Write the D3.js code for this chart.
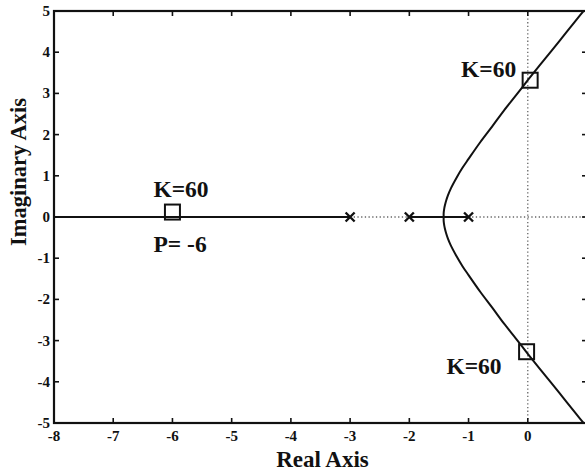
<!DOCTYPE html>
<html>
<head>
<meta charset="utf-8">
<script src="https://cdn.jsdelivr.net/npm/d3@7"></script>
<style>
  html, body { margin: 0; padding: 0; background: #fff; }
  svg { display: block; }
  text { font-family: "Liberation Serif", "Times New Roman", serif; font-weight: bold; fill: #111; }
</style>
</head>
<body>
<div id="chart"></div>
<script>
// Root locus of G(s) = K / ((s+1)(s+2)(s+3))
const realTicks = [-8, -7, -6, -5, -4, -3, -2, -1, 0, 1];
const realTickLabels = ["-8", "-7", "-6", "-5", "-4", "-3", "-2", "-1", "0", ""];
const imagTicks = [-5, -4, -3, -2, -1, 0, 1, 2, 3, 4, 5];
const imagTickLabels = ["-5", "-4", "-3", "-2", "-1", "0", "1", "2", "3", "4", "5"];

// open-loop poles
const poles = [-3, -2, -1];

// branches lying on the real axis: [from, to]
const realSegments = [[-8, -3], [-2, -1]];

// complex branch leaving the breakaway point upward: [re, im]
const upperBranch = [
  [-1.42, 0.00], [-1.42, 0.10], [-1.41, 0.21], [-1.40, 0.28], [-1.38, 0.39],
  [-1.35, 0.52], [-1.30, 0.69], [-1.20, 0.96], [-1.10, 1.20], [-1.00, 1.41],
  [-0.80, 1.82], [-0.60, 2.20], [-0.40, 2.59], [-0.20, 2.95], [0.00, 3.32],
  [0.20, 3.68], [0.40, 4.03], [0.60, 4.39], [0.80, 4.75], [1.00, 5.10]
];
// its mirror image below the real axis
const lowerBranch = [
  [-1.42, 0.00], [-1.42, -0.10], [-1.41, -0.21], [-1.40, -0.28], [-1.38, -0.39],
  [-1.35, -0.52], [-1.30, -0.69], [-1.20, -0.96], [-1.10, -1.20], [-1.00, -1.41],
  [-0.80, -1.82], [-0.60, -2.20], [-0.40, -2.59], [-0.20, -2.95], [0.00, -3.32],
  [0.20, -3.68], [0.40, -4.03], [0.60, -4.39], [0.80, -4.75], [1.00, -5.10]
];

// closed-loop poles for K = 60: [re, im]
const gainPoints = [[-6, 0.12], [0.04, 3.32], [-0.02, -3.27]];
const gainLabels = ["K=60", "K=60", "K=60"];
const poleLabel = "P= -6";

const W = 585, H = 472;
const mLeft = 54, mRight = 587, mTop = 11, mBottom = 423;

const x = d3.scaleLinear().domain([-8, 1]).range([mLeft, mRight]);
const y = d3.scaleLinear().domain([-5, 5]).range([mBottom, mTop]);

const svg = d3.select("#chart").append("svg")
  .attr("width", W).attr("height", H)
  .attr("viewBox", `0 0 ${W} ${H}`);

svg.append("clipPath").attr("id", "clip")
  .append("rect").attr("x", mLeft).attr("y", mTop)
  .attr("width", mRight - mLeft).attr("height", mBottom - mTop);

const inner = svg.append("g").attr("clip-path", "url(#clip)");

// dotted reference lines through the origin
inner.append("line")
  .attr("x1", x(-8)).attr("x2", x(1)).attr("y1", y(0)).attr("y2", y(0))
  .attr("stroke", "#666").attr("stroke-width", 1.3).attr("stroke-dasharray", "1.3,2.4");
inner.append("line")
  .attr("x1", x(0)).attr("x2", x(0)).attr("y1", y(5)).attr("y2", y(-5))
  .attr("stroke", "#666").attr("stroke-width", 1.3).attr("stroke-dasharray", "1.3,2.4");

// real-axis branches
inner.selectAll("line.real")
  .data(realSegments)
  .join("line").attr("class", "real")
  .attr("x1", d => x(d[0])).attr("x2", d => x(d[1]))
  .attr("y1", y(0)).attr("y2", y(0))
  .attr("stroke", "#111").attr("stroke-width", 2);

// complex branches
const line = d3.line().x(d => x(d[0])).y(d => y(d[1])).curve(d3.curveCatmullRom);
[upperBranch, lowerBranch].forEach(b => {
  inner.append("path").attr("d", line(b))
    .attr("fill", "none").attr("stroke", "#111").attr("stroke-width", 2);
});

// pole markers (x)
const xs = 4.5;
poles.forEach(p => {
  const cx = x(p), cy = y(0);
  inner.append("path")
    .attr("d", `M${cx - xs},${cy - xs}L${cx + xs},${cy + xs}M${cx - xs},${cy + xs}L${cx + xs},${cy - xs}`)
    .attr("stroke", "#111").attr("stroke-width", 2.4).attr("fill", "none");
});

// K = 60 markers (squares)
const sq = 15;
inner.selectAll("rect.gain").data(gainPoints).join("rect").attr("class", "gain")
  .attr("x", d => x(d[0]) - sq / 2).attr("y", d => y(d[1]) - sq / 2)
  .attr("width", sq).attr("height", sq)
  .attr("fill", "none").attr("stroke", "#111").attr("stroke-width", 2);

// annotations
const fs = "23.5px";
const lab = svg.append("g");
lab.append("text").text(gainLabels[0])
  .attr("x", x(gainPoints[0][0]) - 19).attr("y", y(gainPoints[0][1]) - 15)
  .attr("font-size", fs);
lab.append("text").text(poleLabel)
  .attr("x", x(gainPoints[0][0]) - 19).attr("y", y(gainPoints[0][1]) + 40)
  .attr("font-size", fs);
lab.append("text").text(gainLabels[1])
  .attr("x", x(gainPoints[1][0]) - 14).attr("y", y(gainPoints[1][1]) - 3)
  .attr("text-anchor", "end").attr("font-size", fs);
lab.append("text").text(gainLabels[2])
  .attr("x", x(gainPoints[2][0]) - 25).attr("y", y(gainPoints[2][1]) + 22)
  .attr("text-anchor", "end").attr("font-size", fs);

// frame with inward ticks on all four sides
const tl = 5;
const frame = svg.append("g").attr("stroke", "#111").attr("fill", "none");
frame.append("rect").attr("x", mLeft).attr("y", mTop)
  .attr("width", mRight - mLeft).attr("height", mBottom - mTop).attr("stroke-width", 2.2);
realTicks.forEach(t => {
  frame.append("line").attr("x1", x(t)).attr("x2", x(t)).attr("y1", mBottom).attr("y2", mBottom - tl).attr("stroke-width", 1.6);
  frame.append("line").attr("x1", x(t)).attr("x2", x(t)).attr("y1", mTop).attr("y2", mTop + tl).attr("stroke-width", 1.6);
});
imagTicks.forEach(t => {
  frame.append("line").attr("x1", mLeft).attr("x2", mLeft + tl).attr("y1", y(t)).attr("y2", y(t)).attr("stroke-width", 1.6);
  frame.append("line").attr("x1", mRight).attr("x2", mRight - tl).attr("y1", y(t)).attr("y2", y(t)).attr("stroke-width", 1.6);
});

// tick labels
svg.append("g").selectAll("text").data(realTicks).join("text")
  .attr("x", d => x(d)).attr("y", mBottom + 18)
  .attr("text-anchor", "middle").attr("font-size", "15px")
  .text((d, i) => realTickLabels[i]);
svg.append("g").selectAll("text").data(imagTicks).join("text")
  .attr("x", mLeft - 4).attr("y", d => y(d) + 5)
  .attr("text-anchor", "end").attr("font-size", "15px")
  .text((d, i) => imagTickLabels[i]);

// axis titles
svg.append("text").text("Real Axis")
  .attr("x", (mLeft + mRight) / 2 + 2).attr("y", 467)
  .attr("text-anchor", "middle").attr("font-size", "23px");
svg.append("text").text("Imaginary Axis")
  .attr("transform", "translate(26,172) rotate(-90)")
  .attr("text-anchor", "middle").attr("font-size", "22.5px");
</script>
</body>
</html>
